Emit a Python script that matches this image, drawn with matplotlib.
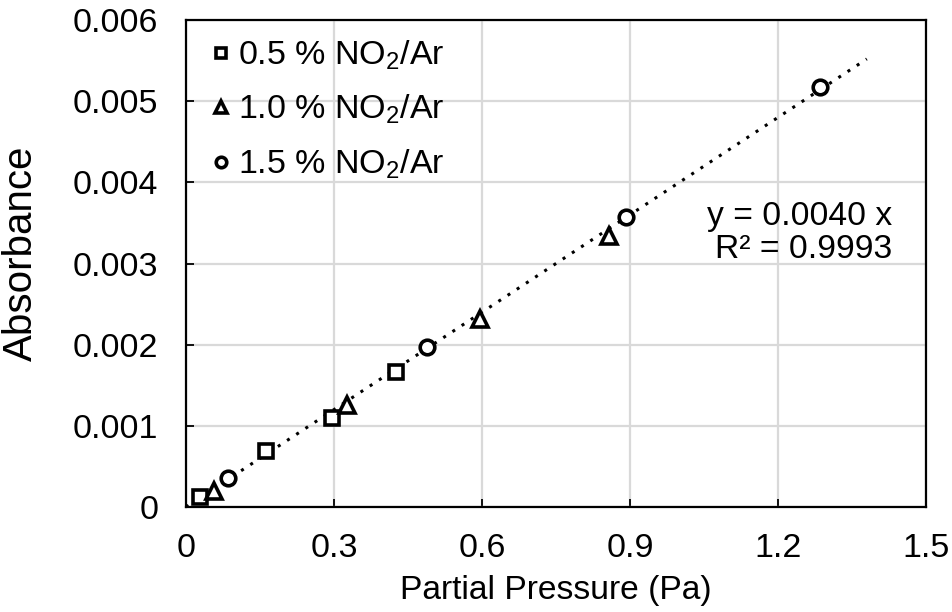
import numpy as np
import matplotlib
matplotlib.use("Agg")
import matplotlib.pyplot as plt

plt.rcParams['font.family'] = ['Liberation Sans', 'DejaVu Sans']
plt.rcParams['mathtext.default'] = 'regular'

# Data
x_05 = [0.028, 0.162, 0.296, 0.426]
y_05 = [0.000125, 0.00069, 0.00110, 0.00166]
x_10 = [0.057, 0.326, 0.596, 0.857]
y_10 = [0.00020, 0.00126, 0.00232, 0.00334]
x_15 = [0.086, 0.489, 0.892, 1.285]
y_15 = [0.00036, 0.00197, 0.00357, 0.00517]
labels = [r'0.5 % NO$_{\mathregular{2}}$/Ar', r'1.0 % NO$_{\mathregular{2}}$/Ar', r'1.5 % NO$_{\mathregular{2}}$/Ar']
slope = 0.0040
fit_x_end = 1.38
xticks = [0, 0.3, 0.6, 0.9, 1.2, 1.5]
xticklabels = ['0', '0.3', '0.6', '0.9', '1.2', '1.5']
yticks = [0, 0.001, 0.002, 0.003, 0.004, 0.005, 0.006]
yticklabels = ['0', '0.001', '0.002', '0.003', '0.004', '0.005', '0.006']

fig = plt.figure(figsize=(9.53, 6.12), dpi=100)
ax = fig.add_axes([186/953, 1-507/612, (926-186)/953, (507-20)/612])

ax.set_xlim(0, 1.5)
ax.set_ylim(0, 0.006)
ax.set_xticks(xticks)
ax.set_xticklabels(xticklabels)
ax.set_yticks(yticks)
ax.set_yticklabels(yticklabels)
ax.grid(True, color='#d9d9d9', linewidth=1.6, zorder=0)
ax.set_axisbelow(True)
for s in ax.spines.values():
    s.set_linewidth(1.6)
    s.set_color('black')
ax.tick_params(direction='in', length=6, width=1.3, labelsize=24.5,
               top=False, right=False)
ax.tick_params(axis='x', pad=19)
ax.tick_params(axis='y', pad=20)

# trendline
fx = np.array([0, fit_x_end])
ax.plot(fx, slope * fx, linestyle=(0, (1, 2.6)), color='black', linewidth=2.2, zorder=2)

ms = 10.5
mew = 2.6
ax.plot(x_05, y_05, 's', ms=ms, mfc='white', mec='black', mew=mew, zorder=3, label=labels[0])
ax.plot(x_10, y_10, '^', ms=ms+1, mfc='white', mec='black', mew=mew, zorder=3, label=labels[1])
ax.plot(x_15, y_15, 'o', ms=ms, mfc='white', mec='black', mew=mew, zorder=3, label=labels[2])

leg = ax.legend(loc='upper left', frameon=False, fontsize=24.5, handlelength=0.4,
                handletextpad=0.3, borderaxespad=0.0, labelspacing=0.62,
                markerscale=0.72, bbox_to_anchor=(0.02, 0.99))

ax.text(0.955, 0.596, 'y = 0.0040 x', transform=ax.transAxes, ha='right', va='center', fontsize=24.2)
ax.text(0.955, 0.528, 'R² = 0.9993', transform=ax.transAxes, ha='right', va='center', fontsize=24.2)

ax.set_xlabel('Partial Pressure (Pa)', fontsize=24.2, labelpad=8)
ax.set_ylabel('Absorbance', fontsize=29)
ax.yaxis.set_label_coords(-0.198, 0.52)

fig.savefig('out.png', dpi=100)
